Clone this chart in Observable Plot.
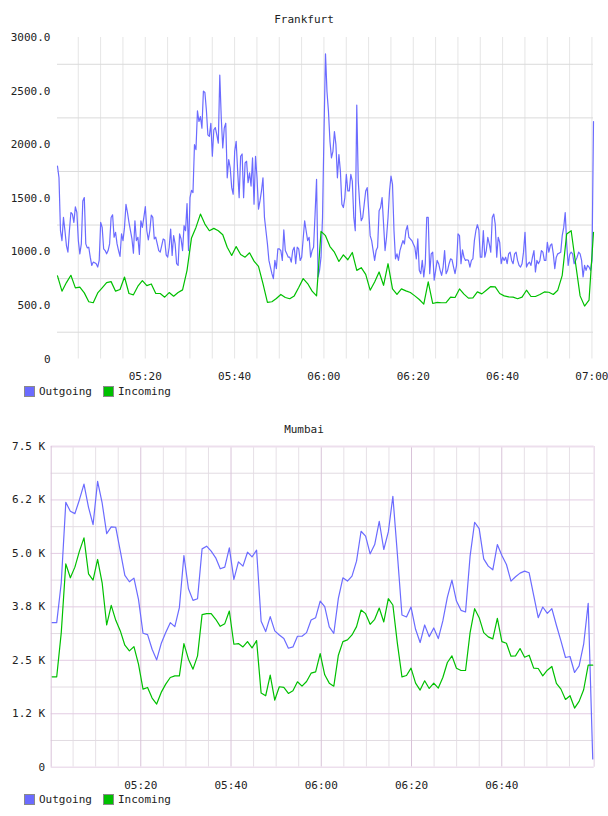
<!DOCTYPE html>
<html><head><meta charset="utf-8">
<script src="https://cdn.jsdelivr.net/npm/d3@7"></script>
<script src="https://cdn.jsdelivr.net/npm/@observablehq/plot@0.6"></script>
<style>
body{margin:0;background:#fff;width:608px;height:816px;position:relative;overflow:hidden;font-family:"DejaVu Sans Mono",monospace;color:#222;}
.title{position:absolute;left:0;width:608px;text-align:center;font-size:11px;line-height:13px;color:#222;}
.sw{position:absolute;width:9px;height:9px;border:1px solid #8a8a8a;}
.lt{position:absolute;font-size:11px;line-height:13px;color:#222;}
.chart{position:absolute;left:0;}
</style></head><body>
<div class="title" style="top:13px">Frankfurt</div>
<div id="fr" class="chart" style="top:0"></div>
<div class="sw" style="left:24px;top:386px;background:#6b6bff"></div><div class="lt" style="left:39px;top:385px">Outgoing</div>
<div class="sw" style="left:103px;top:386px;background:#00c000"></div><div class="lt" style="left:118px;top:385px">Incoming</div>
<div class="title" style="top:423px">Mumbai</div>
<div id="mu" class="chart" style="top:400px"></div>
<div class="sw" style="left:24px;top:794px;background:#6b6bff"></div><div class="lt" style="left:39px;top:793px">Outgoing</div>
<div class="sw" style="left:103px;top:794px;background:#00c000"></div><div class="lt" style="left:118px;top:793px">Incoming</div>
<script>
// ---------- Frankfurt ----------
const frankDomain = ["05:00:21", "07:00:21"];
const frankOutStart = "05:00:21", frankOutStepSec = 20;
const frankInStart = "05:00:21", frankInStepSec = 60;
const frankXTicks = ["05:20","05:40","06:00","06:20","06:40","07:00"];
const frankGridX = ["05:05","05:10","05:15","05:20","05:25","05:30","05:35","05:40","05:45","05:50","05:55","06:00","06:05","06:10","06:15","06:20","06:25","06:30","06:35","06:40","06:45","06:50","06:55","07:00"];
const frankYTicks = [0,500,1000,1500,2000,2500,3000];
const frankYLabels = ["0","500.0","1000.0","1500.0","2000.0","2500.0","3000.0"];
const frankGridY = [250,750,1250,1750,2250,2750];
const frankOutgoing = [
1799,1691,1197,1105,1321,1197,1059,997,1197,1367,
1352,1275,1420,1367,1105,981,1074,1475,1506,1074,
1037,1043,950,873,904,898,889,858,920,1275,
1228,1028,1012,981,1012,1074,1321,1346,1136,1182,
1074,1012,957,1167,1105,1228,1444,1367,1275,1197,
1120,988,1290,1105,1136,975,1290,1228,1321,1423,
1197,1111,1197,1342,1321,1120,1136,1074,1012,997,
1059,1120,1111,972,950,1043,1213,966,1151,1074,
889,873,1167,1120,1012,1244,1197,1450,1012,1506,
1574,1553,2000,1953,2315,2216,2262,2154,2500,2487,
2321,2092,2077,2200,1892,2139,2160,2092,2015,2648,
2247,1969,2154,2200,1691,1861,
1784,1599,1537,1938,2031,1753,1506,1892,1913,1506,
1830,1845,1645,1737,1614,1876,1444,1892,1691,1398,
1475,1568,1691,1321,1197,1074,920,858,796,750,
920,843,1028,1028,1012,920,1204,1012,981,950,
950,904,1012,1043,889,1043,1028,920,950,1120,
1290,1197,1105,1136,950,1012,1043,1352,1676,765,
827,950,1321,2123,2848,2494,2308,2031,1876,1938,
2123,2000,1691,1907,1753,1444,1413,1506,1722,1568,
1568,1722,1660,1321,1197,2370,1660,1444,1290,1321,
1444,1568,1599,1383,1151,1105,1012,920,1012,1043,
1383,1413,1506,1259,1012,1136,1321,1568,1707,1630,
1197,935,981,920,1012,1059,1105,1074,1197,1244,
1136,
1120,1105,1074,1043,935,1120,827,796,920,765,
889,1321,1321,796,981,997,735,827,920,889,
827,781,858,1012,796,827,889,935,926,858,
796,873,1167,1151,889,1018,950,920,926,920,
858,920,935,1105,1197,1253,1204,950,950,1197,
950,1012,1136,1074,997,1321,1352,1259,950,1136,
1089,889,950,920,950,889,981,997,920,889,
981,997,920,873,858,889,997,1182,858,
889,904,873,950,1012,812,920,889,920,1012,
997,920,920,1089,997,1059,1074,981,843,950,
981,988,997,1151,1228,1367,1074,873,975,997,
981,889,920,950,997,981,920,765,873,827,
873,858,827,920,2216];
const frankIncoming = [
775,633,713,781,664,670,617,534,525,617,
664,713,722,633,648,765,611,599,679,731,
685,700,611,611,577,620,586,620,645,827,
1130,1228,1352,1259,1197,1219,1197,1160,1043,966,
1049,975,950,991,913,864,704,528,534,565,
602,574,562,589,667,750,704,633,589,1191,
1151,1049,997,910,972,926,994,827,852,790,
642,719,812,688,889,654,602,654,636,
620,589,555,512,719,518,528,525,525,577,
574,654,605,568,571,626,608,642,676,673,
611,589,580,577,562,577,642,583,583,602,
626,623,602,642,781,1167,1197,889,589,494,
549,1182];

// ---------- Mumbai ----------
const mumbaiDomain = ["05:00:09", "07:00:29"];
const mumbaiStart = "05:00:22", mumbaiStepSec = 60.4;
const mumbaiXTicks = ["05:20","05:40","06:00","06:20","06:40"];
const mumbaiGridXMajor = ["05:20","05:40","06:00","06:20","06:40"];
const mumbaiGridXMinor = ["05:05","05:10","05:15","05:25","05:30","05:35","05:45","05:50","05:55","06:05","06:10","06:15","06:25","06:30","06:35","06:45","06:50","06:55"];
const mumbaiYTicks = [0,1250,2500,3750,5000,6250,7500];
const mumbaiYLabels = ["0","1.2 K","2.5 K","3.8 K","5.0 K","6.2 K","7.5 K"];
const mumbaiGridYMajor = [1250,2500,3750,5000,6250];
const mumbaiGridYMinor = [625,1875,3125,4375,5625,6875];
const mumbaiOutgoing = [
3381,3381,4313,6194,5984,5930,6256,6622,6078,5674,6684,6179,5464,5619,5611,5052,4484,4337,4422,3925,
3132,3101,2759,2510,2891,3148,3381,3288,3731,4951,4174,3902,3940,5106,5168,5052,4896,4640,
4679,5130,4391,4803,4702,5028,4920,5075,3412,3171,3521,3187,3093,3008,2782,2813,3062,3062,3148,3443,
3497,3886,3754,3280,3132,3948,4430,4352,4469,4819,5518,5402,4990,5207,5751,5091,5503,6334,4974,
3560,3513,3746,3225,2915,3326,3054,3256,3008,3420,3979,4376,3886,3668,3630,4935,5728,5580,4873,4702,
4617,5207,4951,4741,4352,4453,4539,4585,4547,4018,3497,3746,3598,3707,3319,2953,2565,2588,2215,2370,
2876,3832,194];
const mumbaiIncoming = [
2114,2114,3148,4756,4430,4679,5052,5363,4523,4376,4858,4313,3326,3785,3435,3187,2852,2720,2821,2409,
1826,1865,1617,1477,1749,1943,2098,2137,2137,2891,2526,2293,2604,3567,3591,3591,3459,3295,
3357,3653,2876,2891,2813,2938,2790,2961,1733,1671,2153,1570,1881,1865,1725,1788,1997,1896,2005,2199,
2231,2658,2161,1966,1896,2619,2938,2977,3093,3288,3676,3591,3342,3459,3723,3396,3940,3793,2891,
2114,2145,2316,1966,1803,2021,1842,1966,1850,2098,2448,2604,2316,2262,2262,3148,3707,3497,3148,3047,
3000,3482,2938,2899,2596,2604,2775,2573,2619,2316,2308,2137,2269,2355,1959,1826,1585,1671,1383,1539,
1811,2386,2386];

// ---------- helpers ----------
const base = Date.UTC(2020, 0, 1);
const t = (hms) => { const p = hms.split(":").map(Number); return new Date(base + ((p[0]*60 + p[1])*60 + (p[2]||0))*1000); };
const series = (start, stepSec, values) => values.map((v, i) => ({time: new Date(t(start).getTime() + i*stepSec*1000), value: v}));
const fmt = d3.utcFormat("%H:%M");
const font = {fontFamily: '"DejaVu Sans Mono", monospace', fontSize: "11px", color: "#222", background: "transparent", overflow: "visible"};
const BLUE = "#6b6bff", GREEN = "#00c000";

const fo = series(frankOutStart, frankOutStepSec, frankOutgoing);
const fi = series(frankInStart, frankInStepSec, frankIncoming);
const fr = Plot.plot({
  width: 608, height: 385,
  marginLeft: 57, marginRight: 15, marginTop: 37, marginBottom: 26.5,
  style: font,
  x: {type: "utc", domain: frankDomain.map(t), ticks: frankXTicks.map(t), tickFormat: fmt, tickSize: 0, tickPadding: 13, label: null},
  y: {domain: [0, 3000], ticks: frankYTicks, tickFormat: d => frankYLabels[frankYTicks.indexOf(d)], tickSize: 0, tickPadding: 7, label: null},
  marks: [
    Plot.ruleX(frankGridX.map(t), {stroke: "#e6e6e6"}),
    Plot.ruleY(frankGridY, {stroke: "#dadada"}),
    Plot.line(fo, {x: "time", y: "value", stroke: BLUE, strokeWidth: 1.2}),
    Plot.line(fi, {x: "time", y: "value", stroke: GREEN, strokeWidth: 1.2})
  ]
});
document.getElementById("fr").append(fr);

const mo = series(mumbaiStart, mumbaiStepSec, mumbaiOutgoing);
const mi = series(mumbaiStart, mumbaiStepSec, mumbaiIncoming);
const md = mumbaiDomain.map(t);
const mu = Plot.plot({
  width: 608, height: 400,
  marginLeft: 50.7, marginRight: 14.3, marginTop: 46, marginBottom: 33.3,
  style: font,
  x: {type: "utc", domain: md, ticks: mumbaiXTicks.map(t), tickFormat: fmt, tickSize: 0, tickPadding: 14, label: null},
  y: {domain: [0, 7500], ticks: mumbaiYTicks, tickFormat: d => mumbaiYLabels[mumbaiYTicks.indexOf(d)], tickSize: 0, tickPadding: 6, label: null},
  marks: [
    Plot.ruleX(mumbaiGridXMinor.map(t), {stroke: "#e6e0e6"}),
    Plot.ruleY(mumbaiGridYMinor, {stroke: "#e2dbe2"}),
    Plot.ruleY(mumbaiGridYMajor, {stroke: "#e3cce3"}),
    Plot.ruleX(mumbaiGridXMajor.map(t), {stroke: "#d9c3d9"}),
    Plot.ruleY([7500], {stroke: "#eddfed", strokeWidth: 2}),
    Plot.ruleY([0], {stroke: "#eddfed", strokeWidth: 1.5}),
    Plot.ruleX([md[0]], {stroke: "#d9c3d9"}),
    Plot.ruleX([md[1]], {stroke: "#ebdeeb", strokeWidth: 1.5}),
    Plot.line(mo, {x: "time", y: "value", stroke: BLUE, strokeWidth: 1.2}),
    Plot.line(mi, {x: "time", y: "value", stroke: GREEN, strokeWidth: 1.2})
  ]
});
document.getElementById("mu").append(mu);
</script>
</body></html>
